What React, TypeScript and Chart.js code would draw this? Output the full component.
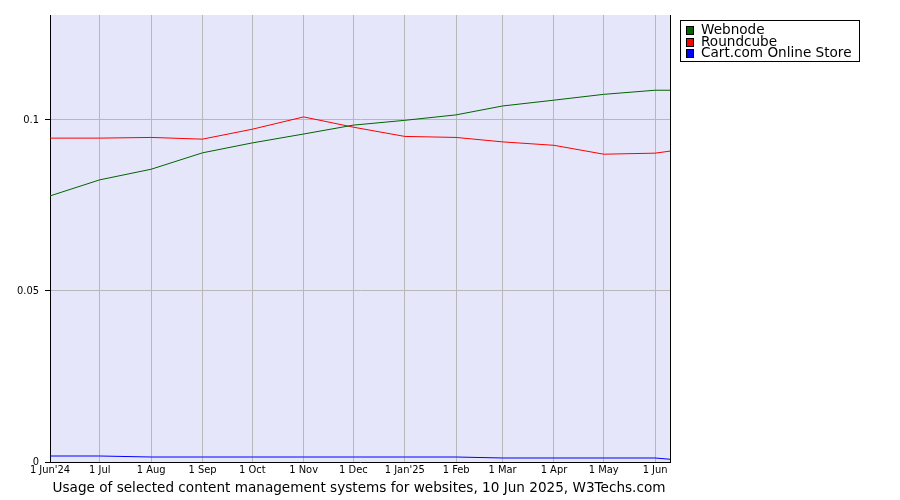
import React, { useEffect, useRef } from "react";
import { Chart, registerables } from "chart.js";

Chart.register(...registerables);

const dates = ["2024-06-01", "2024-07-01", "2024-08-01", "2024-09-01", "2024-10-01", "2024-11-01", "2024-12-01", "2025-01-01", "2025-02-01", "2025-03-01", "2025-04-01", "2025-05-01", "2025-06-01", "2025-06-10"];
const tickDates = ["2024-06-01", "2024-07-01", "2024-08-01", "2024-09-01", "2024-10-01", "2024-11-01", "2024-12-01", "2025-01-01", "2025-02-01", "2025-03-01", "2025-04-01", "2025-05-01", "2025-06-01"];
const tickLabels = ["1 Jun'24", "1 Jul", "1 Aug", "1 Sep", "1 Oct", "1 Nov", "1 Dec", "1 Jan'25", "1 Feb", "1 Mar", "1 Apr", "1 May", "1 Jun"];
const webnode = [0.0778, 0.0825, 0.0856, 0.0904, 0.0933, 0.0959, 0.0985, 0.0999, 0.1015, 0.1041, 0.1058, 0.1075, 0.1087, 0.1087];
const roundcube = [0.0947, 0.0947, 0.0949, 0.0944, 0.0973, 0.1009, 0.0979, 0.0952, 0.0949, 0.0936, 0.0926, 0.0900, 0.0903, 0.0909];
const cartcom = [0.00175, 0.00175, 0.00146, 0.00146, 0.00146, 0.00146, 0.00146, 0.00146, 0.00146, 0.00117, 0.00117, 0.00117, 0.00117, 0.0008];
const yTicks = [0, 0.05, 0.1];
const yTickLabels = ["0", "0.05", "0.1"];
const seriesNames = ["Webnode", "Roundcube", "Cart.com Online Store"];
const seriesColors = ["#006400", "#ff0000", "#0000ff"];
const titleText = "Usage of selected content management systems for websites, 10 Jun 2025, W3Techs.com";

const start = Date.parse(dates[0]);
const dayOf = (d: string) => Math.round((Date.parse(d) - start) / 86400000);
const xMax = dayOf(dates[dates.length - 1]);

const decorPlugin = {
  id: "decor",
  beforeDraw(chart: any) {
    const { ctx, chartArea } = chart;
    ctx.save();
    ctx.fillStyle = "#e6e6fa";
    ctx.fillRect(chartArea.left, chartArea.top, chartArea.right - chartArea.left, chartArea.bottom - chartArea.top);
    ctx.restore();
  },
  afterDraw(chart: any) {
    const { ctx, chartArea } = chart;
    ctx.save();
    ctx.strokeStyle = "#000";
    ctx.lineWidth = 1;
    ctx.beginPath();
    ctx.moveTo(chartArea.right + 0.5, chartArea.top);
    ctx.lineTo(chartArea.right + 0.5, chartArea.bottom);
    ctx.stroke();
    const lx = 680, ly = 20, lw = 179, lh = 41;
    ctx.fillStyle = "#fff";
    ctx.fillRect(lx, ly, lw, lh);
    ctx.strokeRect(lx + 0.5, ly + 0.5, lw, lh);
    ctx.font = "13.6px 'DejaVu Sans'";
    ctx.textBaseline = "middle";
    ctx.textAlign = "left";
    seriesNames.forEach((name, i) => {
      const cy = 30 + i * 11.5;
      ctx.fillStyle = seriesColors[i];
      ctx.fillRect(686, Math.round(cy) - 4, 8, 9);
      ctx.strokeStyle = "#000";
      ctx.strokeRect(686.5, Math.round(cy) - 4 + 0.5, 7, 8);
      ctx.fillStyle = "#000";
      ctx.fillText(name, 701, cy + 0.5);
    });
    ctx.font = "13.6px 'DejaVu Sans'";
    ctx.textAlign = "center";
    ctx.fillStyle = "#000";
    ctx.fillText(titleText, 359, 488);
    ctx.restore();
  },
};

export default function App() {
  const ref = useRef<HTMLCanvasElement>(null);
  useEffect(() => {
    if (!ref.current) return;
    const mk = (vals: number[]) => dates.map((d, i) => ({ x: dayOf(d), y: vals[i] }));
    const chart = new Chart(ref.current, {
      type: "line",
      data: {
        datasets: [webnode, roundcube, cartcom].map((vals, i) => ({
          label: seriesNames[i],
          data: mk(vals),
          borderColor: seriesColors[i],
          backgroundColor: seriesColors[i],
          borderWidth: 1,
          pointRadius: 0,
          tension: 0,
          fill: false,
        })),
      },
      plugins: [decorPlugin],
      options: {
        animation: false,
        responsive: false,
        devicePixelRatio: 1,
        layout: { padding: { top: 15, right: 230, left: 0, bottom: 0 } },
        plugins: { legend: { display: false }, tooltip: { enabled: false }, title: { display: false } },
        scales: {
          x: {
            type: "linear",
            min: 0,
            max: xMax,
            afterBuildTicks: (scale: any) => {
              scale.ticks = tickDates.map((d) => ({ value: dayOf(d) }));
            },
            afterFit: (scale: any) => {
              scale.height = 38;
              scale.paddingLeft = 0;
              scale.paddingRight = 0;
            },
            ticks: {
              autoSkip: false,
              maxRotation: 0,
              padding: 2,
              color: "#000",
              font: { family: "'DejaVu Sans Condensed', 'DejaVu Sans'", size: 11 },
              callback: (_v: any, i: number) => tickLabels[i],
            },
            grid: { color: "#b8b8b8", lineWidth: 1, drawTicks: false, tickLength: 0 },
            border: { display: true, color: "#000", width: 1 },
          },
          y: {
            type: "linear",
            min: 0,
            max: 0.1307,
            afterBuildTicks: (scale: any) => {
              scale.ticks = yTicks.map((v) => ({ value: v }));
            },
            afterFit: (scale: any) => {
              scale.width = 50;
              scale.paddingTop = 0;
              scale.paddingBottom = 0;
            },
            ticks: {
              padding: 6,
              color: "#000",
              font: { family: "'DejaVu Sans Condensed', 'DejaVu Sans'", size: 11 },
              callback: (_v: any, i: number) => yTickLabels[i],
            },
            grid: {
              color: (c: any) => (c.tick && c.tick.value === 0 ? "rgba(0,0,0,0)" : "#b8b8b8"),
              lineWidth: 1,
              drawTicks: true,
              tickLength: 5,
              tickColor: "#000",
            },
            border: { display: true, color: "#000", width: 1 },
          },
        },
      },
    });
    return () => chart.destroy();
  }, []);
  return (
    <div style={{ position: "absolute", left: 0, top: 0, width: 900, height: 500, background: "#fff" }}>
      <canvas ref={ref} width={900} height={500} style={{ width: 900, height: 500 }} />
    </div>
  );
}
